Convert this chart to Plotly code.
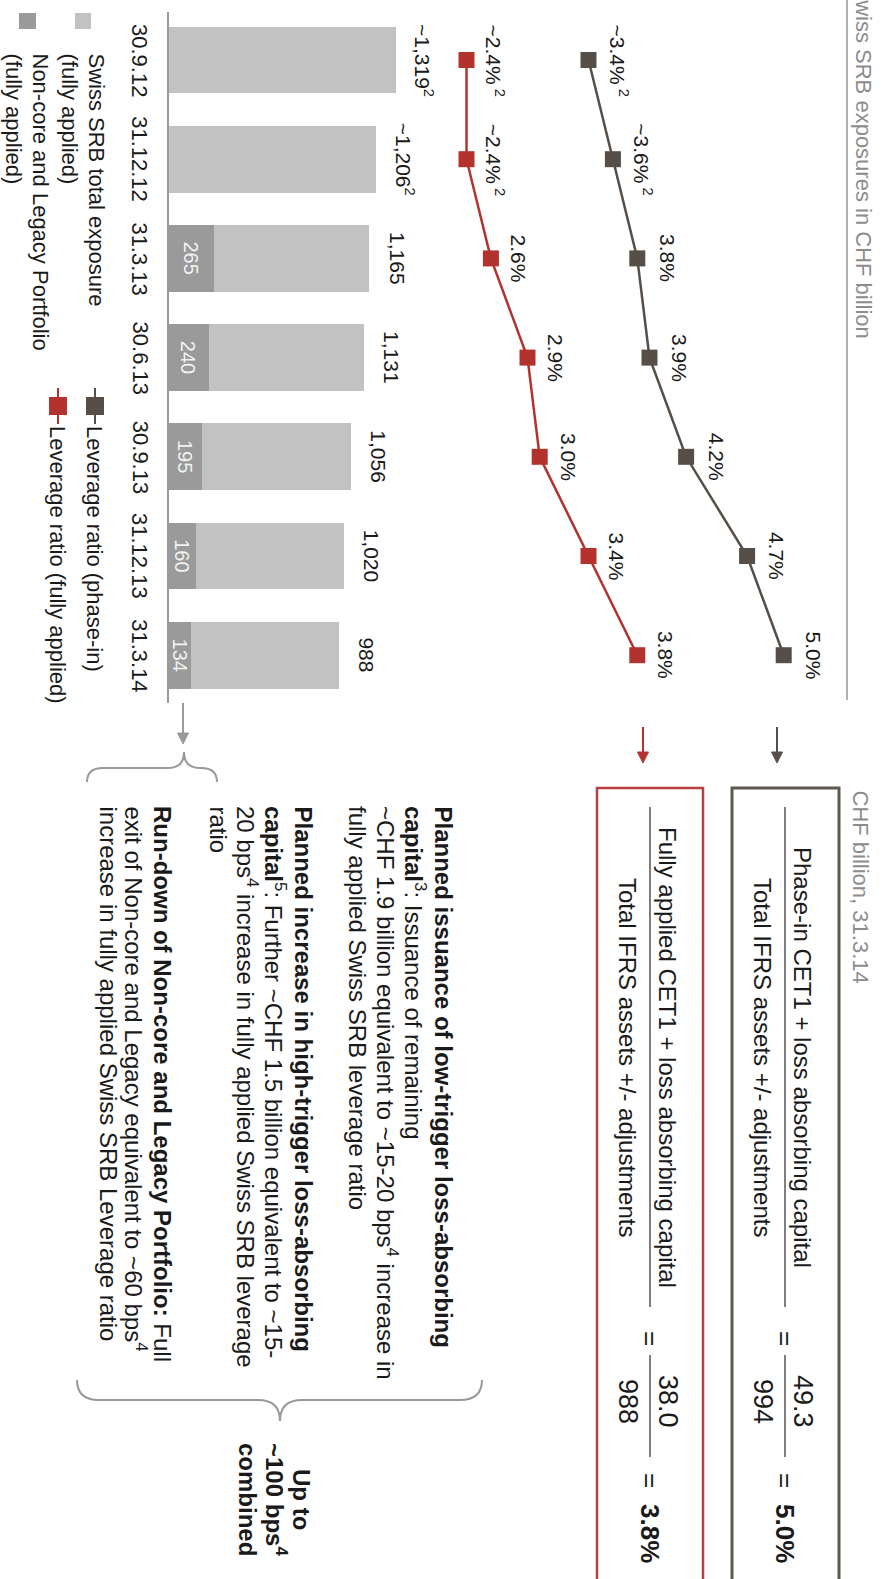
import plotly.graph_objects as go

W, H = 883, 1579
FONT = "Liberation Sans, Arial, sans-serif"
TXT = "#1a1a1a"
GREY_TXT = "#8c8c8c"
LIGHT_BAR = "#c2c2c2"
DARK_BAR = "#9a9a9a"
PHASE_COL = "#564e47"
FULL_COL = "#b3322d"

# ---- data -------------------------------------------------------------
dates = ["30.9.12", "31.12.12", "31.3.13", "30.6.13", "30.9.13", "31.12.13", "31.3.14"]
total_exposure = [1319, 1206, 1165, 1131, 1056, 1020, 988]
noncore_legacy = [0, 0, 265, 240, 195, 160, 134]
exposure_estimated = [True, True, False, False, False, False, False]

lev_phase_in = [3.4, 3.6, 3.8, 3.9, 4.2, 4.7, 5.0]
lev_fully_applied = [2.4, 2.4, 2.6, 2.9, 3.0, 3.4, 3.8]
lev_estimated = [True, True, False, False, False, False, False]

phase_in_capital, phase_in_assets, phase_in_ratio = 49.3, 994, 5.0
fully_capital, fully_assets, fully_ratio = 38.0, 988, 3.8

# ---- geometry helpers (pixel -> paper) ---------------------------------
def px(x):
    return x / W


def py(y):
    return 1 - y / H


BAR_BASE = 168
BAR_SCALE = 228 / 1319          # px per CHF bn
LEV_ANCHOR_PX, LEV_ANCHOR_V, LEV_SCALE = 588.5, 3.4, 122  # px per %
CAT0, CAT_PITCH = 60, 99.2

fig = go.Figure()

# stacked horizontal bars
core_part = [t - n for t, n in zip(total_exposure, noncore_legacy)]
fig.add_trace(go.Bar(y=dates, x=noncore_legacy, orientation="h", width=0.675,
                     marker=dict(color=DARK_BAR, line=dict(width=0)),
                     hoverinfo="skip"))
fig.add_trace(go.Bar(y=dates, x=core_part, orientation="h", width=0.675,
                     marker=dict(color=LIGHT_BAR, line=dict(width=0)),
                     hoverinfo="skip"))

# leverage ratio lines
fig.add_trace(go.Scatter(y=dates, x=lev_phase_in, xaxis="x2", mode="lines+markers",
                         line=dict(color=PHASE_COL, width=2.5),
                         marker=dict(symbol="square", size=16, color=PHASE_COL),
                         hoverinfo="skip"))
fig.add_trace(go.Scatter(y=dates, x=lev_fully_applied, xaxis="x2", mode="lines+markers",
                         line=dict(color=FULL_COL, width=2.5),
                         marker=dict(symbol="square", size=16, color=FULL_COL),
                         hoverinfo="skip"))

ann = []
shapes = []


def vtext(text, x, y, size=22, color=TXT, xanchor="center", yanchor="middle",
          xref="paper", yref="paper", xshift=0):
    ann.append(dict(text=text, x=x, y=y, xref=xref, yref=yref, textangle=90,
                    showarrow=False, xanchor=xanchor, yanchor=yanchor, xshift=xshift,
                    font=dict(family=FONT, size=size, color=color)))


# bar value labels
for d, t, est in zip(dates, total_exposure, exposure_estimated):
    label = ("~" if est else "") + f"{t:,}" + ("<sup>2</sup>" if est else "")
    vtext(label, t, d, size=21, xref="x", yref="y", xshift=28)
for d, n in zip(dates, noncore_legacy):
    if n > 0:
        vtext(str(n), n / 2, d, size=20, color="#f2f2f2", xref="x", yref="y")

# category labels
for d in dates:
    vtext(d, px(140), d, size=22, yref="y")

# leverage point labels
for d, v, est in zip(dates, lev_phase_in, lev_estimated):
    label = ("~" if est else "") + f"{v:.1f}%" + ("<sup> 2</sup>" if est else "")
    vtext(label, v, d, size=21, xref="x2", yref="y", xshift=30)
for d, v, est in zip(dates, lev_fully_applied, lev_estimated):
    label = ("~" if est else "") + f"{v:.1f}%" + ("<sup> 2</sup>" if est else "")
    vtext(label, v, d, size=21, xref="x2", yref="y", xshift=28)

# axis line of the bar chart and right separator
shapes.append(dict(type="line", xref="x", yref="paper", x0=0, x1=0, y0=py(12), y1=py(703),
                   line=dict(color="#9a9a9a", width=2)))
shapes.append(dict(type="line", xref="paper", yref="paper", x0=px(847), x1=px(847),
                   y0=py(-5), y1=py(700), line=dict(color="#b0b0b0", width=2)))

# titles
vtext("Swiss SRB exposures in CHF billion", px(863), py(340), size=22, color=GREY_TXT,
      yanchor="bottom")
vtext("CHF billion, 31.3.14", px(860), py(788), size=22, color=GREY_TXT, yanchor="top")

# legend
shapes.append(dict(type="rect", xref="paper", yref="paper", x0=px(75), x1=px(91),
                   y0=py(13), y1=py(29), fillcolor=LIGHT_BAR, line=dict(width=0)))
shapes.append(dict(type="rect", xref="paper", yref="paper", x0=px(19), x1=px(36),
                   y0=py(13), y1=py(29), fillcolor=DARK_BAR, line=dict(width=0)))
for txt, x in [("Swiss SRB total exposure", 96), ("(fully applied)", 69),
               ("Non-core and Legacy Portfolio", 40), ("(fully applied)", 13)]:
    vtext(txt, px(x), py(51), size=22, yanchor="top")

for col, x, txt in [(PHASE_COL, 95, "Leverage ratio (phase-in)"),
                    (FULL_COL, 58, "Leverage ratio (fully applied)")]:
    shapes.append(dict(type="line", xref="paper", yref="paper", x0=px(x), x1=px(x),
                       y0=py(388), y1=py(424), line=dict(color=col, width=2)))
    shapes.append(dict(type="rect", xref="paper", yref="paper", x0=px(x - 9), x1=px(x + 9),
                       y0=py(397), y1=py(415), fillcolor=col, line=dict(width=0)))
    vtext(txt, px(x), py(424), size=22, yanchor="top")


# downward arrows (shaft + filled head)
def down_arrow(x, y0, y1, col):
    shapes.append(dict(type="line", xref="paper", yref="paper", x0=px(x), x1=px(x),
                       y0=py(y0), y1=py(y1 - 8), line=dict(color=col, width=2)))
    head = (f"M {px(x - 5.5)},{py(y1 - 11)} L {px(x + 5.5)},{py(y1 - 11)} "
            f"L {px(x)},{py(y1)} Z")
    shapes.append(dict(type="path", xref="paper", yref="paper", path=head,
                       fillcolor=col, line=dict(color=col, width=1)))


down_arrow(777, 727, 763, PHASE_COL)
down_arrow(643, 727, 763, FULL_COL)
down_arrow(183, 703, 744, "#9a9a9a")


# formula boxes
def formula_box(x0, x1, border, bw, num_txt, den_txt, num, den, ratio):
    shapes.append(dict(type="rect", xref="paper", yref="paper", x0=px(x0), x1=px(x1),
                       y0=py(788), y1=py(1600), line=dict(color=border, width=bw),
                       fillcolor="rgba(0,0,0,0)"))
    xm = x0 + 53
    shapes.append(dict(type="line", xref="paper", yref="paper", x0=px(xm), x1=px(xm),
                       y0=py(807), y1=py(1307), line=dict(color="#555555", width=1.5)))
    vtext(num_txt, px(xm + 18), py(1057), size=24)
    vtext(den_txt, px(xm - 22), py(1057), size=24)
    vtext("=", px(xm), py(1338), size=26)
    shapes.append(dict(type="line", xref="paper", yref="paper", x0=px(xm), x1=px(xm),
                       y0=py(1355), y1=py(1457), line=dict(color="#555555", width=1.5)))
    vtext(f"{num:.1f}", px(xm + 18), py(1401), size=27)
    vtext(f"{den}", px(xm - 22), py(1401), size=27)
    vtext("=", px(xm), py(1480), size=26)
    vtext(f"<b>{ratio:.1f}%</b>", px(xm), py(1533), size=26)


formula_box(732, 839, "#5e5850", 3, "Phase-in CET1 + loss absorbing capital",
            "Total IFRS assets +/- adjustments", phase_in_capital, phase_in_assets, phase_in_ratio)
formula_box(597, 703, "#b84040", 2.5, "Fully applied CET1 + loss absorbing capital",
            "Total IFRS assets +/- adjustments", fully_capital, fully_assets, fully_ratio)

# explanatory text blocks
blocks = [
    ([443, 415, 387, 358], [
        "<b>Planned issuance of low-trigger loss-absorbing</b>",
        "<b>capital</b><sup>3</sup>: Issuance of remaining",
        "~CHF 1.9 billion equivalent to ~15-20 bps<sup>4</sup> increase in",
        "fully applied Swiss SRB leverage ratio"]),
    ([303, 275, 247, 218], [
        "<b>Planned increase in high-trigger loss-absorbing</b>",
        "<b>capital</b><sup>5</sup>: Further ~CHF 1.5 billion equivalent to ~15-",
        "20 bps<sup>4</sup> increase in fully applied Swiss SRB leverage",
        "ratio"]),
    ([163, 136, 108], [
        "<b>Run-down of Non-core and Legacy Portfolio:</b> Full",
        "exit of Non-core and Legacy equivalent to ~60 bps<sup>4</sup>",
        "increase in fully applied Swiss SRB Leverage ratio"]),
]
for xs, lines in blocks:
    for x, line in zip(xs, lines):
        vtext(line, px(x), py(804), size=24, yanchor="top")

for x, line in [(302, "<b>Up to</b>"), (276, "<b>~100 bps<sup>4</sup></b>"), (248, "<b>combined</b>")]:
    vtext(line, px(x), py(1499), size=24)


# curly braces
def brace(x0, x1, xt, y_end, y_flat, y_tip, r=18):
    path = (f"M {px(x0)},{py(y_end)} Q {px(x0)},{py(y_flat)} {px(x0 + r)},{py(y_flat)} "
            f"L {px(xt - r)},{py(y_flat)} Q {px(xt)},{py(y_flat)} {px(xt)},{py(y_tip)} "
            f"Q {px(xt)},{py(y_flat)} {px(xt + r)},{py(y_flat)} "
            f"L {px(x1 - r)},{py(y_flat)} Q {px(x1)},{py(y_flat)} {px(x1)},{py(y_end)}")
    shapes.append(dict(type="path", xref="paper", yref="paper", path=path,
                       line=dict(color="#999999", width=2)))


brace(87, 217, 184, 782, 768, 752, r=16)
brace(77, 482, 280, 1380, 1400, 1421, r=22)

fig.update_layout(
    width=W, height=H, margin=dict(l=0, r=0, t=0, b=0, pad=0),
    paper_bgcolor="white", plot_bgcolor="white",
    barmode="stack", showlegend=False,
    xaxis=dict(range=[-BAR_BASE / BAR_SCALE, (W - BAR_BASE) / BAR_SCALE], domain=[0, 1],
               visible=False, fixedrange=True),
    xaxis2=dict(range=[LEV_ANCHOR_V - LEV_ANCHOR_PX / LEV_SCALE,
                       LEV_ANCHOR_V + (W - LEV_ANCHOR_PX) / LEV_SCALE],
                overlaying="x", domain=[0, 1], visible=False, fixedrange=True),
    yaxis=dict(type="category", categoryorder="array", categoryarray=dates,
               range=[(H - CAT0) / CAT_PITCH, -CAT0 / CAT_PITCH], domain=[0, 1],
               visible=False, fixedrange=True),
    annotations=ann, shapes=shapes,
)

fig.write_html("out.html")
